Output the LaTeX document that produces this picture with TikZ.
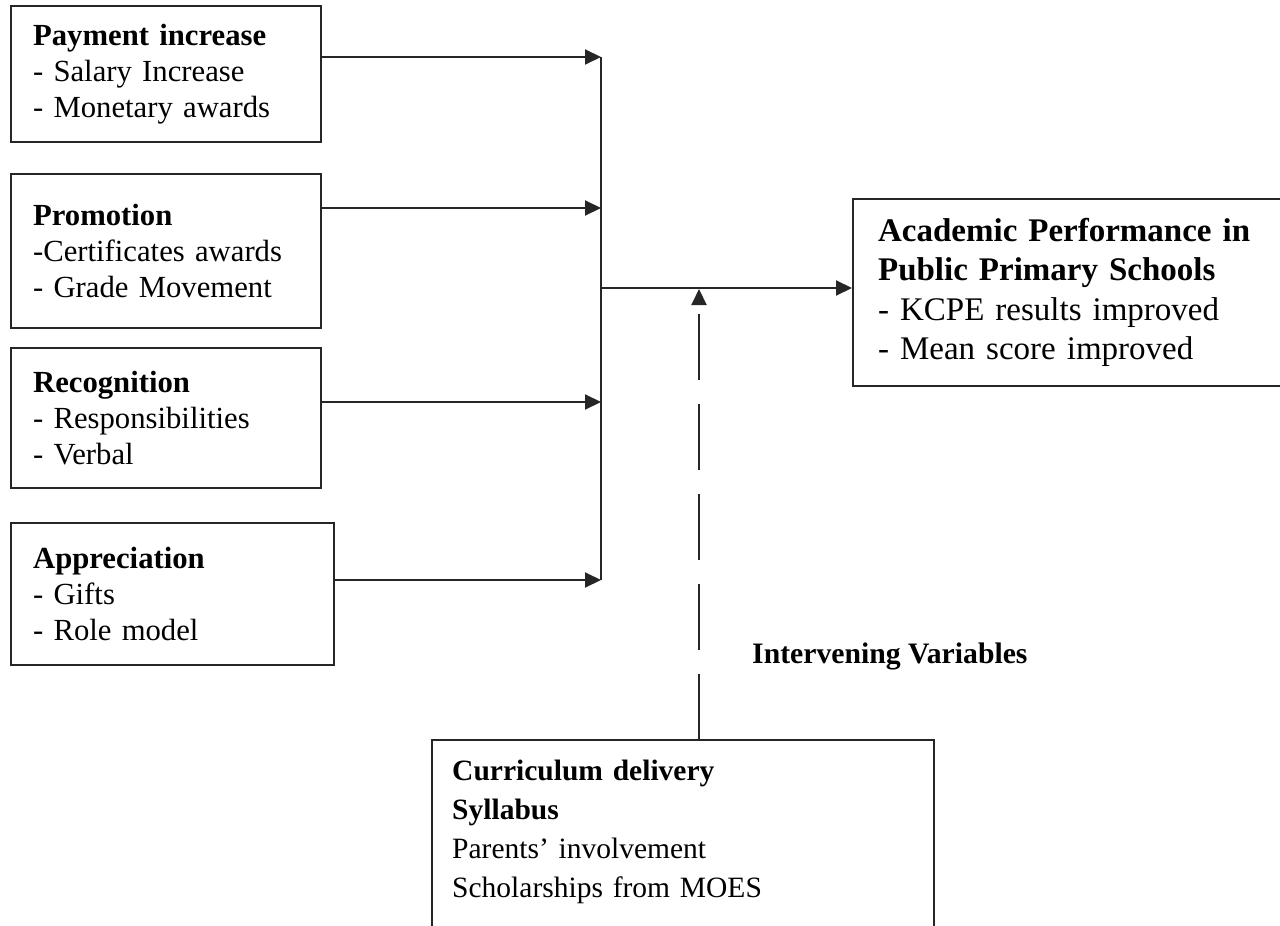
\documentclass[tikz,border=0pt]{standalone}
\usepackage{fontspec}
\setmainfont{Liberation Serif}
\usetikzlibrary{arrows.meta}
\begin{document}
\begin{tikzpicture}[x=1pt,y=-1pt,
  ln/.style={line width=2pt, draw=black!85},
  arr/.style={ln, -{Triangle[length=16pt,width=15pt]}},
  boxline/.style={draw=black!85, line width=2.2pt},
  lbox/.style={boxline, anchor=north west, inner sep=0pt, align=left, font=\fontsize{30.7}{36}\selectfont},
  rbox/.style={boxline, anchor=north west, inner sep=0pt, align=left, font=\fontsize{33}{39.5}\selectfont},
  plain/.style={anchor=north west, inner sep=0pt, align=left}
]
\useasboundingbox (0,0) rectangle (1280,926);
\clip (0,0) rectangle (1280,926);

\node[lbox, minimum width=310pt, minimum height=136pt, text width=266pt] (b1) at (10,5)
  {\textbf{Payment increase}\\- Salary Increase\\- Monetary awards};
\node[lbox, minimum width=310pt, minimum height=154pt, text width=266pt] (b2) at (10,173)
  {\textbf{Promotion}\\-Certificates awards\\- Grade Movement};
\node[lbox, minimum width=310pt, minimum height=140pt, text width=266pt] (b3) at (10,347)
  {\textbf{Recognition}\\- Responsibilities\\- Verbal};
\node[lbox, minimum width=323pt, minimum height=142pt, text width=279pt] (b4) at (10,522)
  {\textbf{Appreciation}\\- Gifts\\- Role model};

\node[rbox, minimum width=460pt, minimum height=187pt, text width=410pt] (perf) at (852,198)
  {\textbf{Academic Performance in}\\\textbf{Public Primary Schools}\\- KCPE results improved\\- Mean score improved};

\node[plain, font=\bfseries\fontsize{29.7}{36}\selectfont, anchor=base west] (iv) at (752,663)
  {Intervening Variables};

\node[plain, text width=460pt, font=\fontsize{29.5}{39}\selectfont] (cur) at (452,760)
  {\textbf{Curriculum delivery}\\\textbf{Syllabus}\\Parents’ involvement\\Scholarships from MOES};
\coordinate (cbl) at (432,945);
\coordinate (ctl) at (432,740);
\coordinate (ctr) at (934,740);
\coordinate (cbr) at (934,945);
\coordinate (ctop) at (699,740);
\draw[boxline] (cbl) -- (ctl) -- (ctr) -- (cbr);

\coordinate (v1) at (601,57);
\coordinate (v2) at (601,208);
\coordinate (v3) at (601,402);
\coordinate (v4) at (601,580);
\coordinate (vm) at (601,288);
\coordinate (tip) at (699,289);

\draw[ln] (v1) -- (v4);
\draw[arr] (b1.east |- v1) -- (v1);
\draw[arr] (b2.east |- v2) -- (v2);
\draw[arr] (b3.east |- v3) -- (v3);
\draw[arr] (b4.east |- v4) -- (v4);
\draw[arr] (vm) -- (perf.west |- vm);
\draw[arr, dash pattern=on 66pt off 24pt] (ctop) -- (tip);
\end{tikzpicture}
\end{document}
